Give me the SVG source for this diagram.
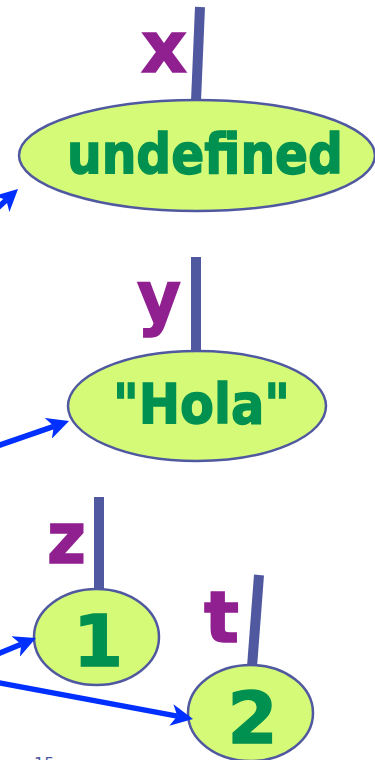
<svg xmlns="http://www.w3.org/2000/svg" width="375" height="760" viewBox="0 0 375 760">
  <style>
    .val { fill: #d4fa78; stroke: #5058a0; stroke-width: 2.5; }
    .vt { font-family: "DejaVu Sans", Verdana, sans-serif; font-weight: bold; fill: #009050; stroke: #009050; stroke-width: 1.5; }
    .nm { font-family: "DejaVu Sans", Verdana, sans-serif; font-weight: bold; fill: #902090; stroke: #902090; stroke-width: 1.5; font-size: 72px; }
    .bar { stroke: #5058a0; stroke-width: 10; fill: none; }
    .arr { stroke: #0030ff; stroke-width: 5.5; fill: none; marker-end: url(#ah); }
  </style>
  <defs>
    <marker id="ah" viewBox="0 0 22 22" refX="6" refY="11" markerWidth="22" markerHeight="22" markerUnits="userSpaceOnUse" orient="auto">
      <path d="M0,0 L22,11 L0,22 L6,11 z" fill="#0030ff"/>
    </marker>
  </defs>
  <rect width="375" height="760" fill="#ffffff"/>

  <g id="node-x">
    <line class="bar" x1="200" y1="7" x2="196" y2="101"/>
    <text class="nm" x="141" y="72" textLength="46" lengthAdjust="spacingAndGlyphs">x</text>
    <ellipse class="val" cx="197" cy="155.5" rx="178" ry="55.5"/>
    <text class="vt" x="67" y="173" font-size="56" textLength="276" lengthAdjust="spacingAndGlyphs">undefined</text>
  </g>

  <g id="node-y">
    <line class="bar" x1="196" y1="257" x2="196" y2="352"/>
    <text class="nm" x="137" y="322" textLength="44" lengthAdjust="spacingAndGlyphs">y</text>
    <ellipse class="val" cx="197" cy="406" rx="129" ry="55"/>
    <text class="vt" x="113" y="423" font-size="56" textLength="177" lengthAdjust="spacingAndGlyphs">"Hola"</text>
  </g>

  <g id="node-z">
    <line class="bar" x1="99" y1="497" x2="99" y2="590"/>
    <text class="nm" x="47" y="563" textLength="39" lengthAdjust="spacingAndGlyphs">z</text>
    <ellipse class="val" cx="96.5" cy="637" rx="62.5" ry="48"/>
    <text class="vt" x="98" y="666" font-size="72" text-anchor="middle">1</text>
  </g>

  <g id="node-t">
    <line class="bar" x1="259" y1="575" x2="252" y2="667"/>
    <text class="nm" x="204" y="642" font-size="76" textLength="35" lengthAdjust="spacingAndGlyphs">t</text>
    <ellipse class="val" cx="250.5" cy="713" rx="62.5" ry="48"/>
    <text class="vt" x="252.5" y="743" font-size="72" text-anchor="middle">2</text>
  </g>

  <g id="connectors">
    <line class="arr" x1="-10" y1="215" x2="6.3" y2="199.9"/>
    <line class="arr" x1="-5" y1="446.7" x2="53.9" y2="426.3"/>
    <line class="arr" x1="-5" y1="655.1" x2="21.2" y2="644.2"/>
    <line class="arr" x1="-5" y1="682" x2="177.3" y2="716.1"/>
  </g>

  <text x="34" y="769" font-family="Verdana, 'DejaVu Sans', sans-serif" font-size="16" fill="#5058a0">15</text>
</svg>
